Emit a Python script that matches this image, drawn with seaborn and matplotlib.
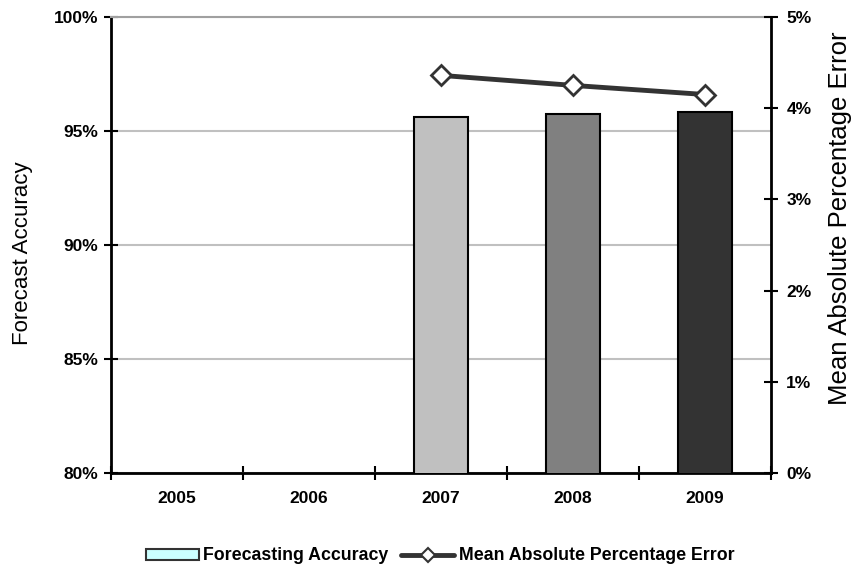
#!/usr/bin/env python

import numpy as np
import pandas as pd
import seaborn as sns
import matplotlib.pyplot as plt
from matplotlib.patches import Patch
from matplotlib.lines import Line2D
from matplotlib.ticker import FuncFormatter, MultipleLocator, FixedLocator

years = ['2005', '2006', '2007', '2008', '2009']
accuracy = [np.nan, np.nan, 95.6, 95.73, 95.82]
mape = [np.nan, np.nan, 4.36, 4.25, 4.15]
bar_colors = ['#c0c0c0', '#c0c0c0', '#c0c0c0', '#808080', '#333333']


def main():
    sns.set_style('white')
    plt.rcParams['font.family'] = ['Liberation Sans', 'DejaVu Sans']
    plt.rcParams['text.color'] = 'black'
    plt.rcParams['axes.labelcolor'] = 'black'
    plt.rcParams['xtick.color'] = 'black'
    plt.rcParams['ytick.color'] = 'black'

    fig = plt.figure(figsize=(8.57, 5.75), dpi=100)
    ax = fig.add_axes([111 / 857, 102 / 575, 660 / 857, 456 / 575])

    df = pd.DataFrame({'year': years, 'accuracy': accuracy})
    sns.barplot(data=df, x='year', y='accuracy', hue='year',
                palette=bar_colors, width=0.41, edgecolor='black',
                linewidth=1.5, legend=False, ax=ax, zorder=3)
    ax.set_ylim(80, 100)
    ax.set_xlim(-0.5, 4.5)
    ax.yaxis.set_major_locator(MultipleLocator(5))
    ax.yaxis.set_major_formatter(FuncFormatter(lambda v, p: f'{v:.0f}%'))
    ax.grid(axis='y', color='#c0c0c0', linewidth=1.5, zorder=0)
    ax.set_axisbelow(True)
    ax.set_xlabel('')
    ax.set_ylabel('Forecast Accuracy', fontsize=16)
    ax.yaxis.set_label_coords((33 - 111) / 660, 0.482)

    ax.xaxis.set_minor_locator(FixedLocator(np.arange(-0.5, 5, 1)))
    ax.tick_params(axis='x', which='major', length=0, pad=13)
    ax.tick_params(axis='x', which='minor', direction='inout', length=10,
                   width=1.5, color='black', bottom=True)
    ax.tick_params(axis='y', direction='inout', length=10, width=1.5,
                   color='black', left=True, pad=4)
    for lab in ax.get_xticklabels() + ax.get_yticklabels():
        lab.set_fontweight('bold')
        lab.set_fontsize(12.5)

    for side in ['left', 'bottom']:
        ax.spines[side].set_color('black')
        ax.spines[side].set_linewidth(2)
    ax.spines['top'].set_color('#a0a0a0')
    ax.spines['top'].set_linewidth(1.5)
    ax.spines['right'].set_visible(False)

    ax2 = ax.twinx()
    sns.lineplot(x=np.arange(len(years)), y=mape, ax=ax2, color='#333333',
                 linewidth=3.5, marker='D', markersize=10,
                 markerfacecolor='white', markeredgecolor='#333333',
                 markeredgewidth=2, zorder=5)
    ax2.set_ylim(0, 5)
    ax2.yaxis.set_major_locator(MultipleLocator(1))
    ax2.yaxis.set_major_formatter(FuncFormatter(lambda v, p: f'{v:.0f}%'))
    ax2.tick_params(axis='y', direction='inout', length=10, width=1.5,
                    color='black', right=True, pad=6)
    for lab in ax2.get_yticklabels():
        lab.set_fontweight('bold')
        lab.set_fontsize(12.5)
    ax2.set_ylabel('Mean Absolute Percentage Error', fontsize=18.5)
    ax2.yaxis.set_label_coords(1 + (828 - 771) / 660, 0.559)
    for side in ['left', 'top', 'bottom']:
        ax2.spines[side].set_visible(False)
    ax2.spines['right'].set_color('black')
    ax2.spines['right'].set_linewidth(2)

    handles = [
        Patch(facecolor='#ccffff', edgecolor='#333333', linewidth=1.5,
              label='Forecasting Accuracy'),
        Line2D([], [], color='#333333', linewidth=3.5, marker='D',
               markersize=7, markerfacecolor='white',
               markeredgecolor='#333333', markeredgewidth=1.5,
               label='Mean Absolute Percentage Error'),
    ]
    fig.legend(handles=handles, loc='center',
               bbox_to_anchor=(440 / 857, 1 - 556 / 575),
               ncol=2, frameon=False, handlelength=3.0, handleheight=0.6,
               handletextpad=0.25, columnspacing=0.7,
               prop={'weight': 'bold', 'size': 12.8})

    fig.savefig('out.png', dpi=100)


if __name__ == '__main__':
    main()
